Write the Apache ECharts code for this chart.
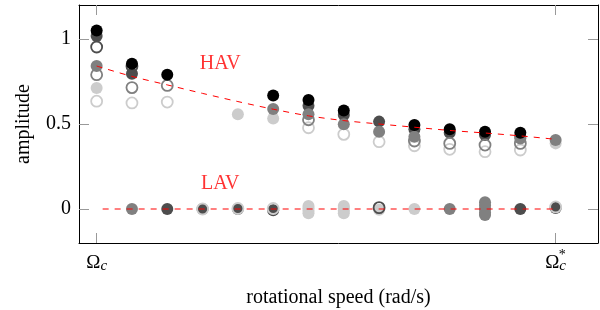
<!DOCTYPE html>
<html>
<head>
<meta charset="utf-8">
<script src="https://cdn.jsdelivr.net/npm/echarts@6/dist/echarts.min.js"></script>
<style>html,body{margin:0;padding:0;background:#fff}#c{width:600px;height:310px}</style>
</head>
<body>
<div id="c"></div>
<script>
// ---- data (x = index of measured speed, 0 = Ω_c, 13 = Ω_c*) ----
const xTickValues = [0, 13];
const xStarTick = [13];
const yTickValues = [0, 0.5, 1];
const havFitX = [0,1,2,3,4,5,6,7,8,9,10,11,12,13];
const havFitY = [0.841,0.78,0.73,0.68,0.632,0.587,0.548,0.52,0.5,0.481,0.462,0.447,0.43,0.41];
const lavFit = [[0,0],[13,0]];
const blackPts = [[0,1.05],[1,0.855],[2,0.79],[5,0.667],[6,0.641],[7,0.58],[9,0.494],[10,0.469],[11,0.455],[12,0.449]];
const darkPts = [[0,1.018],[1,0.796],[6,0.608],[7,0.553],[8,0.514],[9,0.469],[10,0.449],[11,0.435],[12,0.425],
                 [2,0],[3,0],[4,0],[5,-0.008],[12,0],[13,0.006]];
const darkOpenPts = [[0,0.953],[1,0.84],[8,0.008]];
const midPts = [[0,0.841],[5,0.588],[6,0.557],[7,0.498],[8,0.455],[9,0.425],[12,0.415],[13,0.406],
                [1,0],[10,0],[11,0.04],[11,0.02],[11,0],[11,-0.02],[11,-0.035]];
const midOpenPts = [[0,0.79],[1,0.714],[2,0.727],[6,0.525],[9,0.4],[10,0.386],[11,0.376],[12,0.386]];
const lightPts = [[0,0.712],[4,0.557],[5,0.533],[13,0.386],
                  [6,0.018],[6,0.004],[6,-0.01],[6,-0.025],[7,0.018],[7,0.004],[7,-0.01],[7,-0.025],[8,-0.004],[9,0]];
const lightOpenPts = [[0,0.634],[1,0.624],[2,0.629],[6,0.478],[7,0.439],[8,0.396],[9,0.372],[10,0.351],[11,0.337],[12,0.347],
                      [3,0],[4,0.003],[5,0.003],[13,0.012]];
const textLabels = [[3.5,0.853,'HAV'],[3.5,0.147,'LAV']];

const SERIF = 'Liberation Serif';
const C = {black:'#000000', dark:'#4d4d4d', mid:'#808080', light:'#cccccc'};

function filled(data, color) {
  return {type:'scatter', data, symbol:'circle', symbolSize:12,
    itemStyle:{color, opacity:1}, silent:true};
}
function open(data, color) {
  return {type:'scatter', data, symbol:'circle', symbolSize:11,
    itemStyle:{color:'rgba(255,255,255,0)', borderColor:color, borderWidth:1.8, opacity:1}, silent:true};
}
const tickStyle = {show:true, inside:true, length:10, lineStyle:{color:'#999', width:1}};
const lineBlack = {show:true, onZero:false, lineStyle:{color:'#000', width:1}};

const chart = echarts.init(document.getElementById('c'), null, {renderer:'canvas'});
chart.setOption({
  animation:false,
  backgroundColor:'#fff',
  grid:{left:79, right:2, top:5, bottom:67, containLabel:false, outerBoundsMode:'none'},
  xAxis:[{
    type:'value', min:-0.5, max:14.2, position:'bottom',
    axisLine:lineBlack, splitLine:{show:false},
    axisTick:Object.assign({customValues:xTickValues}, tickStyle),
    axisLabel:{customValues:xTickValues, margin:11, color:'#000', fontFamily:SERIF,
      formatter:() => '{o|Ω}{c|c}',
      rich:{
        o:{fontSize:19, fontFamily:SERIF, color:'#000', lineHeight:20, verticalAlign:'top'},
        c:{fontSize:15, fontFamily:SERIF, fontStyle:'italic', color:'#000', lineHeight:8, verticalAlign:'bottom'}
      }},
    name:'rotational speed (rad/s)', nameLocation:'middle', nameGap:45,
    nameTextStyle:{fontSize:20, fontFamily:SERIF, color:'#000'}
  },{
    type:'value', min:-0.5, max:14.2, position:'top',
    axisLine:lineBlack, splitLine:{show:false},
    axisTick:Object.assign({customValues:xTickValues}, tickStyle),
    axisLabel:{show:false}
  },{
    type:'value', min:-0.5, max:14.2, position:'bottom', offset:0,
    axisLine:{show:false}, axisTick:{show:false}, splitLine:{show:false},
    axisLabel:{customValues:xStarTick, margin:5, color:'#000', fontFamily:SERIF,
      formatter:() => '{s|*}',
      rich:{s:{fontSize:14, fontFamily:SERIF, color:'#000', lineHeight:14, padding:[0,0,0,13]}}}
  }],
  yAxis:[{
    type:'value', min:-0.2, max:1.2, position:'left',
    axisLine:lineBlack, splitLine:{show:false},
    axisTick:Object.assign({customValues:yTickValues}, tickStyle),
    axisLabel:{customValues:yTickValues, margin:8, color:'#000', fontSize:20, fontFamily:SERIF,
      formatter:v => String(v)},
    name:'amplitude', nameLocation:'middle', nameGap:45,
    nameTextStyle:{fontSize:20, fontFamily:SERIF, color:'#000'}
  },{
    type:'value', min:-0.2, max:1.2, position:'right',
    axisLine:lineBlack, splitLine:{show:false},
    axisTick:Object.assign({customValues:yTickValues}, tickStyle),
    axisLabel:{show:false}
  }],
  series:[
    {type:'line', data:havFitX.map((x,i)=>[x,havFitY[i]]), smooth:0.3, showSymbol:false, silent:true,
      lineStyle:{color:'#ff0000', width:1, type:[6,6]}},
    {type:'line', data:lavFit, showSymbol:false, silent:true,
      lineStyle:{color:'#ff0000', width:1, type:[6,6], dashOffset:6}},
    filled(lightPts, C.light),
    filled(darkPts, C.dark),
    open(lightOpenPts, C.light),
    filled(midPts, C.mid),
    open(midOpenPts, C.mid),
    open(darkOpenPts, C.dark),
    filled(blackPts, C.black),
    {type:'scatter', data:textLabels, symbol:'circle', symbolSize:1, silent:true,
      itemStyle:{color:'rgba(0,0,0,0)'},
      label:{show:true, position:'inside', formatter:p=>p.value[2], color:'#ff0000',
        fontSize:20, fontFamily:SERIF}}
  ]
});
</script>
</body>
</html>
